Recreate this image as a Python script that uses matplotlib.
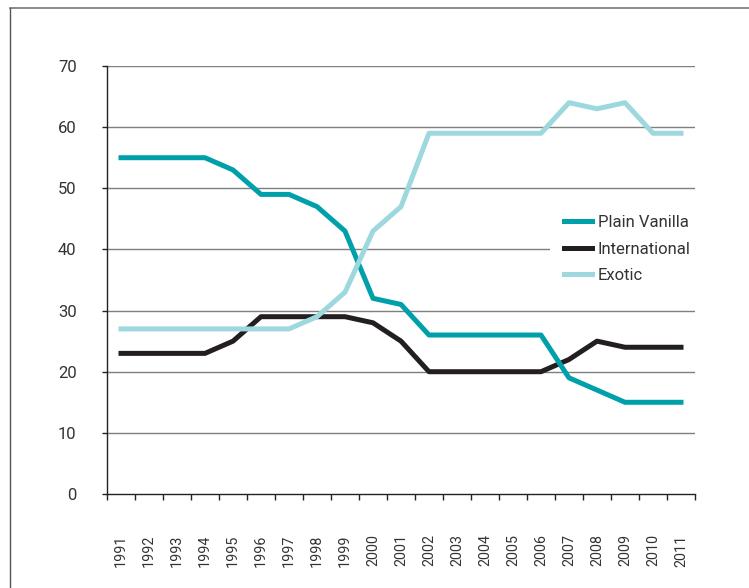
import matplotlib
matplotlib.use("Agg")
import matplotlib.pyplot as plt
from matplotlib.lines import Line2D
import numpy as np

years = [str(y) for y in range(1991, 2012)]
plain_vanilla = [55, 55, 55, 55, 53, 49, 49, 47, 43, 32, 31, 26, 26, 26, 26, 26, 19, 17, 15, 15, 15]
international = [23, 23, 23, 23, 25, 29, 29, 29, 29, 28, 25, 20, 20, 20, 20, 20, 22, 25, 24, 24, 24]
exotic = [27, 27, 27, 27, 27, 27, 27, 29, 33, 43, 47, 59, 59, 59, 59, 59, 64, 63, 64, 59, 59]
y_ticks = [0, 10, 20, 30, 40, 50, 60, 70]

plt.rcParams['font.family'] = ['Roboto', 'DejaVu Sans']
text_color = '#333333'

fig = plt.figure(figsize=(7.49, 5.88), dpi=100)
ax = fig.add_axes([107/749, 1-494/588, (695-107)/749, (494-66)/588])

x = np.arange(len(years))
lw = 3.6
ax.plot(x, international, color='#231F20', lw=lw, solid_joinstyle='round', zorder=3, label='International')
ax.plot(x, plain_vanilla, color='#00A0AA', lw=lw, solid_joinstyle='round', zorder=4, label='Plain Vanilla')
ax.plot(x, exotic, color='#9ED8DF', lw=lw, solid_joinstyle='round', zorder=5, label='Exotic')

ax.set_xlim(-0.5, len(years) - 0.5)
ax.set_ylim(0, 70)
ax.set_yticks(y_ticks)
ax.set_yticklabels([str(v) for v in y_ticks])
for v in y_ticks[1:]:
    ax.axhline(v, color='#7f7f7f', lw=1.0, zorder=1)

ax.set_xticks(x)
ax.set_xticklabels(years, rotation=90, fontsize=10.3, color=text_color)
ax.set_xticks(np.arange(-0.5, len(years), 1.0), minor=True)
ax.tick_params(axis='x', which='major', length=0, pad=29)
ax.tick_params(axis='x', which='minor', length=4.5, width=1, color='#222222', direction='out')
ax.tick_params(axis='y', length=3.8, width=1, color='#222222', direction='out', pad=18,
               labelsize=12, labelcolor=text_color)

for s in ['top', 'right']:
    ax.spines[s].set_visible(False)
for s in ['left', 'bottom']:
    ax.spines[s].set_color('#222222')
    ax.spines[s].set_linewidth(1.0)

handles, labels = ax.get_legend_handles_labels()
order = [1, 0, 2]
leg = ax.legend([handles[i] for i in order], [labels[i] for i in order],
                loc='center left', bbox_to_anchor=(542/749, 1-249/588),
                bbox_transform=fig.transFigure, frameon=True, fancybox=False,
                facecolor='white', edgecolor='none', framealpha=1.0,
                fontsize=12, borderpad=0.8, handlelength=1.7, handletextpad=0.35,
                labelspacing=0.68)
for t in leg.get_texts():
    t.set_color(text_color)
leg.set_zorder(6)

# outer frame
fig.add_artist(Line2D([10/749, 1.0], [1-7.5/588, 1-7.5/588], transform=fig.transFigure,
                      color='#777777', lw=1.2))
fig.add_artist(Line2D([10/749, 10/749], [0.0, 1-7.5/588], transform=fig.transFigure,
                      color='#555555', lw=1.0))

fig.savefig('out.png', dpi=100)
